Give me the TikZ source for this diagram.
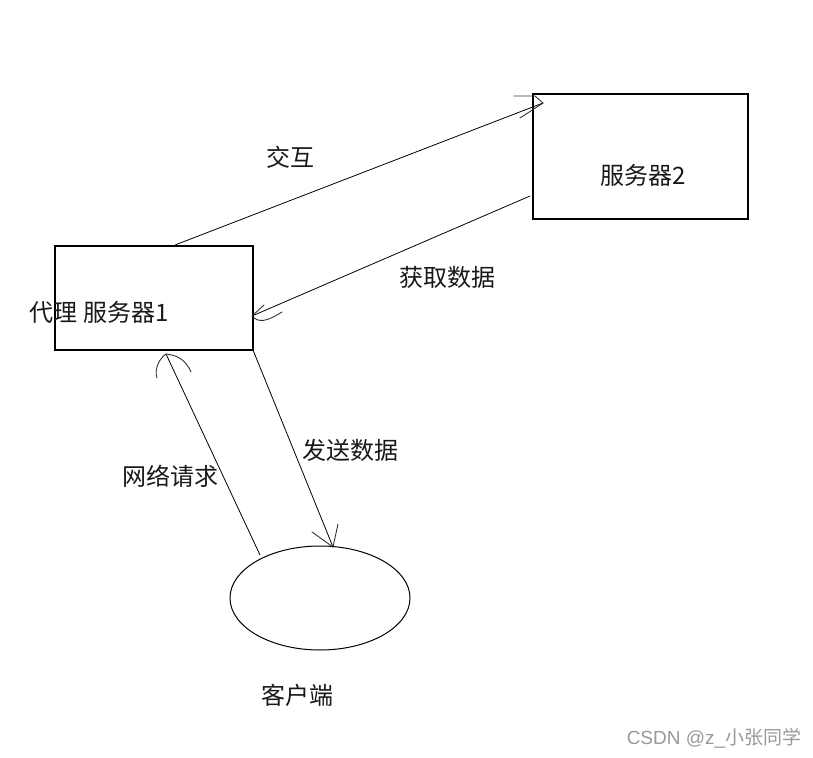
\documentclass[tikz,border=0pt]{standalone}
\usepackage{fontspec}
\newfontfamily\cjk{Noto Sans CJK SC}
\usetikzlibrary{shapes.geometric}
\begin{document}
\begin{tikzpicture}[x=1pt,y=-1pt,
  box/.style={draw,line width=1.2pt,rectangle,inner sep=0pt},
  lbl/.style={font=\cjk\fontsize{24}{28}\selectfont,text=black!90,inner sep=0pt,anchor=center},
  conn/.style={line width=0.8pt},
  barb/.style={line width=0.9pt,line cap=round,black!80}]
\useasboundingbox[fill=white] (0,0) rectangle (813,757);
% shapes
\node[box,minimum width=198pt,minimum height=104pt] (b1) at (154,298) {};
\node[box,minimum width=215pt,minimum height=125pt] (b2) at (640.5,156.5) {};
\node[draw,line width=1pt,ellipse,minimum width=180pt,minimum height=104pt,inner sep=0pt] (cl) at (320,598) {};
% labels
\node[lbl] (t1) at (99,312) {代理 服务器1};
\node[lbl] (t2) at (643,175) {服务器2};
\node[lbl] (t3) at (297,695) {客户端};
\node[lbl] (l1) at (290,157) {交互};
\node[lbl] (l2) at (447,277) {获取数据};
\node[lbl] (l3) at (350,450) {发送数据};
\node[lbl] (l4) at (170,476) {网络请求};
\node[font=\fontspec{Liberation Sans}\fontsize{19}{22}\selectfont,text=black!40,inner sep=0pt] (wm) at (714,738) {CSDN @z\_{\cjk 小张同学}};
% anchor coordinates
\coordinate (a1s) at (175,245);
\coordinate (a1e) at (543,103);
\coordinate (a2s) at (530,196);
\coordinate (a2e) at (252,316);
\coordinate (a3s) at (260,555);
\coordinate (a3e) at (166,354);
\coordinate (a4s) at (253,350);
\coordinate (a4e) at (333,547);
% connectors
\draw[conn] (a1s) -- (a1e);
\draw[conn] (a2s) -- (a2e);
\draw[conn] (a3s) -- (a3e);
\draw[conn] (a4s) -- (a4e);
% hand drawn arrow heads
\draw[barb] (514,96) -- (535,96) -- (a1e) -- (520,118);
\draw[barb] (a2e) -- (264,305);
\draw[barb] (254,318) .. controls (262,324) and (272,318) .. (282,312);
\draw[barb] (157,378) .. controls (154,368) and (160,358) .. (a3e) .. controls (175,355) and (185,358) .. (191,372);
\draw[barb] (312,532) -- (a4e) -- (338,524);
\end{tikzpicture}
\end{document}
